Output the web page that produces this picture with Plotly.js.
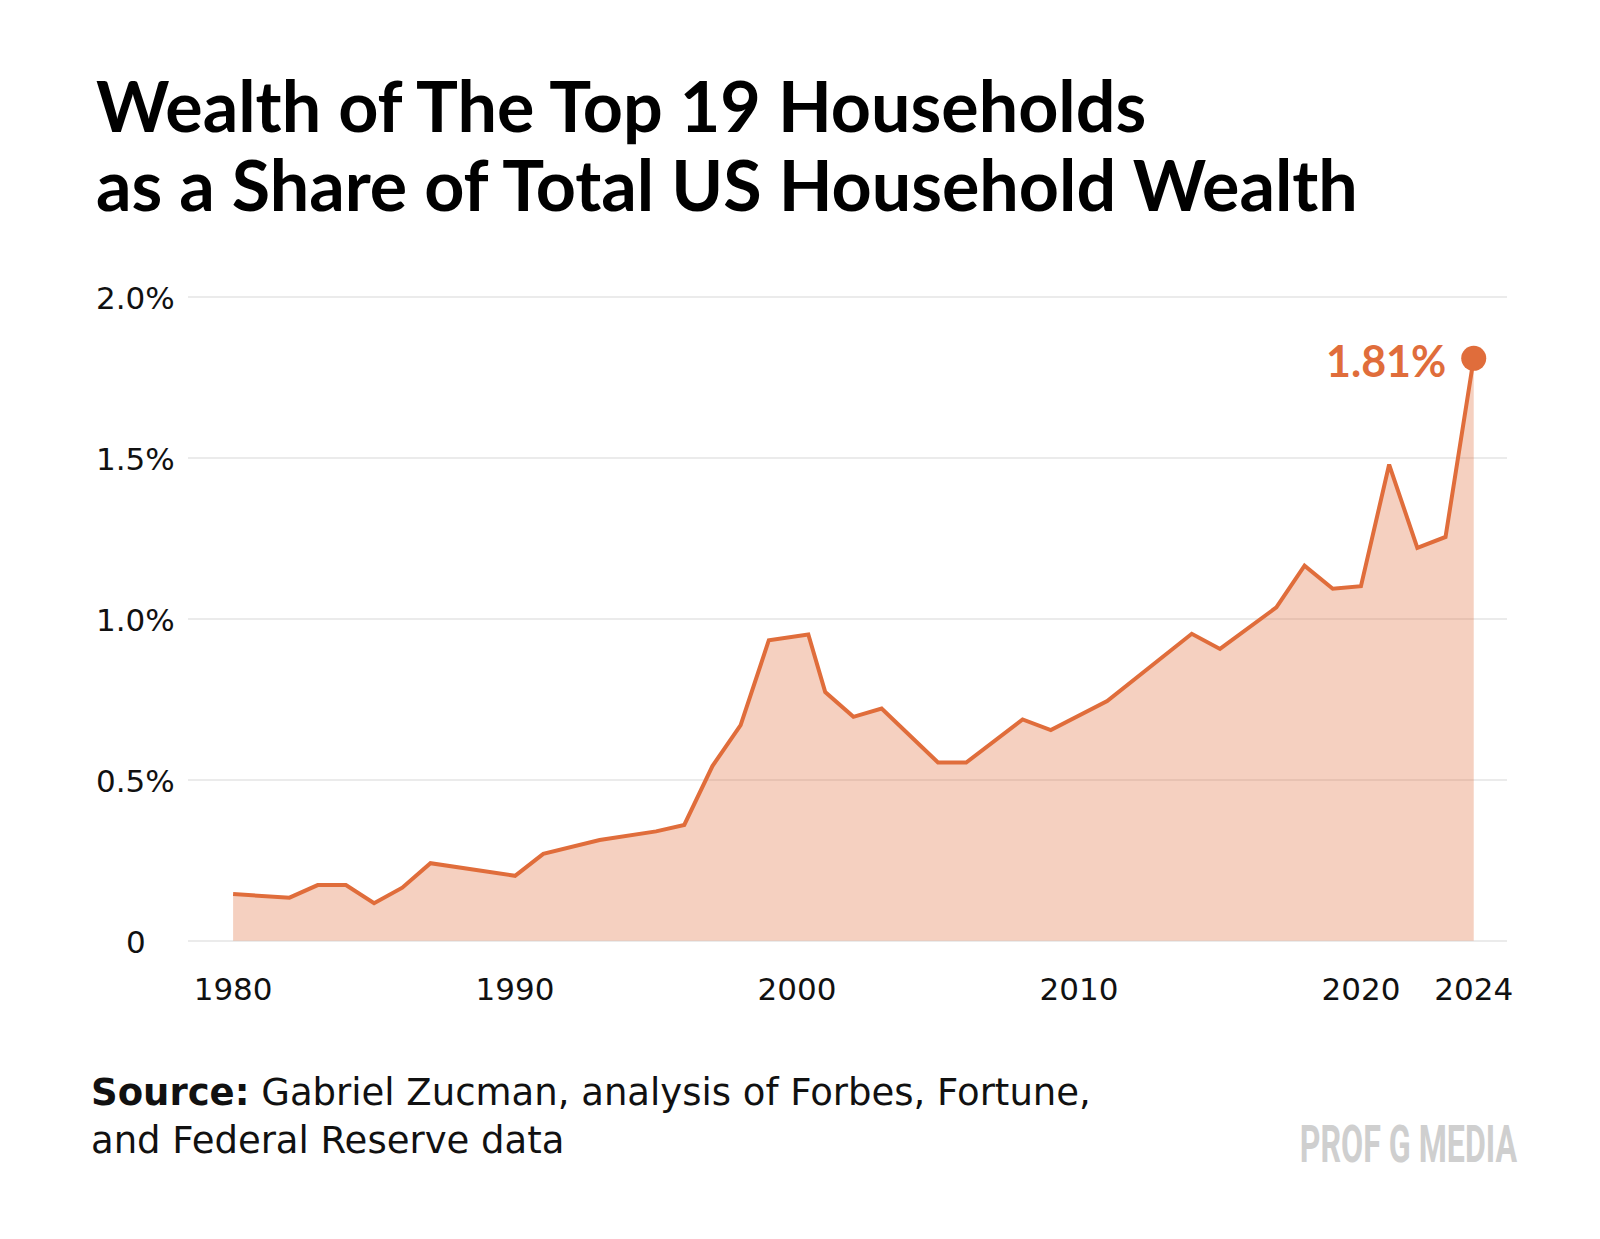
<!DOCTYPE html>
<html>
<head>
<meta charset="utf-8">
<script src="https://cdn.plot.ly/plotly-3.0.1.min.js"></script>
<style>
  html, body { margin: 0; padding: 0; background: #ffffff; }
  #chart { width: 1600px; height: 1239px; }
</style>
</head>
<body>
<div id="chart"></div>
<script>
// ---- data ----
const years = [1980, 1982, 1983, 1984, 1985, 1986, 1987, 1990, 1991, 1993, 1995, 1996, 1997, 1998, 1999, 2000.4, 2001, 2002, 2003, 2005, 2006, 2008, 2009, 2011, 2014, 2015, 2017, 2018, 2019, 2020, 2021, 2022, 2023, 2024];
const sharePct = [0.145, 0.134, 0.173, 0.173, 0.117, 0.165, 0.241, 0.202, 0.270, 0.313, 0.340, 0.360, 0.543, 0.670, 0.934, 0.952, 0.773, 0.696, 0.722, 0.554, 0.554, 0.688, 0.655, 0.745, 0.954, 0.907, 1.036, 1.166, 1.094, 1.102, 1.480, 1.221, 1.255, 1.81];
const xTickVals = [1980, 1990, 2000, 2010, 2020, 2024];
const xTickText = ['1980', '1990', '2000', '2010', '2020', '2024'];
const yTickVals = [0, 0.5, 1.0, 1.5, 2.0];
const yTickText = ['0', '0.5%', '1.0%', '1.5%', '2.0%'];
const titleLines = ['Wealth of The Top 19 Households', 'as a Share of Total US Household Wealth'];
const sourceText = '<b>Source:</b> Gabriel Zucman, analysis of Forbes, Fortune,<br>and Federal Reserve data';
const brandText = 'PROF G MEDIA';

// ---- styling ----
const ORANGE = '#E06D3B';
const FILL = 'rgba(224,109,59,0.32)';
const TICKFONT = { family: 'DejaVu Sans, sans-serif', size: 31, color: '#111111' };

const lastIdx = years.length - 1;

const traces = [
  {
    x: years, y: sharePct, type: 'scatter', mode: 'lines',
    fill: 'tozeroy', fillcolor: FILL,
    line: { color: ORANGE, width: 4, shape: 'linear' },
    hoverinfo: 'skip'
  },
  {
    x: [years[lastIdx]], y: [sharePct[lastIdx]], type: 'scatter', mode: 'markers',
    marker: { color: ORANGE, size: 25 },
    hoverinfo: 'skip'
  }
];

// centred y tick labels, placed through the y scale
const annotations = yTickVals.map((v, i) => ({
  xref: 'paper', yref: 'y', x: -0.0398, y: v,
  text: yTickText[i], showarrow: false,
  xanchor: 'center', yanchor: 'middle', yshift: -1,
  font: TICKFONT
}));

// title lines
const titleY = [1.3589, 1.2369];
titleLines.forEach((line, i) => {
  annotations.push({
    xref: 'paper', yref: 'paper', x: -0.0713, y: titleY[i],
    text: line, showarrow: false, align: 'left',
    xanchor: 'left', yanchor: 'top',
    font: { family: 'Lato, sans-serif', size: 70, weight: 700, color: '#000000' }
  });
});

// end-value label
annotations.push({
  xref: 'x', yref: 'y', x: years[lastIdx], y: sharePct[lastIdx],
  text: sharePct[lastIdx].toFixed(2) + '%', showarrow: false,
  xanchor: 'right', yanchor: 'middle', xshift: -26, yshift: -2,
  font: { family: 'Lato, sans-serif', size: 43, weight: 700, color: ORANGE }
});

// source note
annotations.push({
  xref: 'paper', yref: 'paper', x: -0.0751, y: -0.1923,
  text: sourceText, showarrow: false, align: 'left',
  xanchor: 'left', yanchor: 'top',
  font: { family: 'DejaVu Sans, sans-serif', size: 37, color: '#111111' }
});

// brand mark
annotations.push({
  xref: 'paper', yref: 'paper', x: 1.0099, y: -0.3092,
  text: brandText, showarrow: false,
  xanchor: 'right', yanchor: 'middle',
  font: { family: 'Roboto, sans-serif', size: 51, weight: 700, color: '#CFCFCF' }
});

const layout = {
  width: 1600, height: 1239,
  paper_bgcolor: '#ffffff', plot_bgcolor: '#ffffff',
  margin: { l: 188, r: 93, t: 294, b: 295, pad: 0 },
  showlegend: false,
  xaxis: {
    range: [1978.4, 2025.18],
    tickvals: xTickVals, ticktext: xTickText,
    showgrid: false, zeroline: false, showline: false,
    ticks: '', ticklabelstandoff: 24,
    tickfont: TICKFONT, fixedrange: true
  },
  yaxis: {
    range: [-0.01, 2.01],
    tickvals: yTickVals, showticklabels: false,
    showgrid: true, gridcolor: '#EBEBEB', gridwidth: 2,
    zeroline: false, showline: false, ticks: '', fixedrange: true
  },
  annotations: annotations
};

Plotly.newPlot('chart', traces, layout, { displayModeBar: false, staticPlot: true }).then(function (gd) {
  // condensed look for the brand mark
  gd.querySelectorAll('text.annotation-text').forEach(function (t) {
    if (t.textContent === brandText) {
      t.style.transformBox = 'fill-box';
      t.style.transformOrigin = '100% 50%';
      t.style.transform = 'scaleX(0.63)';
    }
  });
});
</script>
</body>
</html>
